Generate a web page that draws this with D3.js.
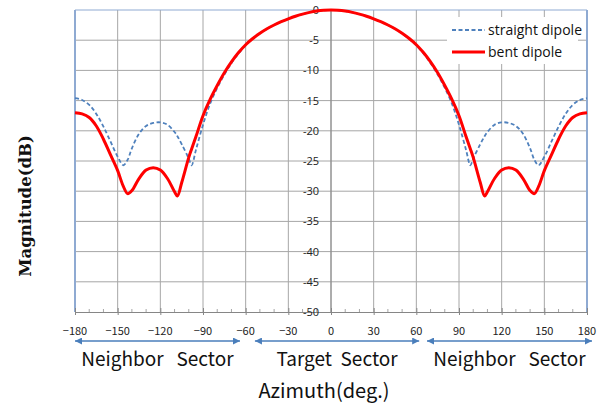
<!DOCTYPE html>
<html>
<head>
<meta charset="utf-8">
<script src="https://cdn.jsdelivr.net/npm/d3@7"></script>
<style>
  body { margin: 0; background: #fff; }
  svg { display: block; }
  .grid line { stroke: #a6a6a6; stroke-width: 1; }
  .tickLabel { font-family: "Noto Sans CJK JP", "Noto Sans", sans-serif; font-size: 11px; fill: #222; }
  .yLabel { font-family: "Open Sans", sans-serif; font-size: 11px; fill: #222; }
  .sectorText { font-family: "Noto Sans CJK JP", "Noto Sans", sans-serif; font-size: 19px; fill: #111; }
  .legendText { font-family: "Open Sans", sans-serif; font-size: 14px; fill: #111; }
</style>
</head>
<body>
<div id="chart"></div>
<script>
var azimuth = [-180,-175,-170,-165,-160,-155,-150,-146,-143,-140,-135,-130,-125,-120,-115,-110,-108,-105,-100,-98,-95,-90,-85,-80,-75,-70,-65,-60,-55,-50,-45,-40,-35,-30,-25,-20,-15,-10,-5,
  0,
  5,10,15,20,25,30,35,40,45,50,55,60,65,70,75,80,85,90,95,98,100,105,108,110,115,120,125,130,135,140,143,146,150,155,160,165,170,175,180];

// straight dipole (dB)
var straightDipole = [-14.6,-14.9,-15.7,-17.2,-19.3,-21.8,-24.3,-25.7,-24.8,-22.9,-20.5,-19.2,-18.7,-18.6,-19.0,-20.2,-20.9,-22.2,-24.6,-25.7,-23.2,-19.0,-15.5,-12.9,-10.7,-8.8,-7.2,-5.85,-4.8,-3.9,-3.12,-2.48,-1.94,-1.46,-1.03,-0.68,-0.39,-0.18,-0.05,
  0,
  -0.05,-0.18,-0.39,-0.68,-1.03,-1.46,-1.94,-2.48,-3.12,-3.9,-4.8,-5.85,-7.2,-8.8,-10.7,-12.9,-15.5,-19.0,-23.2,-25.7,-24.6,-22.2,-20.9,-20.2,-19.0,-18.6,-18.7,-19.2,-20.5,-22.9,-24.8,-25.7,-24.3,-21.8,-19.3,-17.2,-15.7,-14.9,-14.6];

// bent dipole (dB)
var bentDipole = [-17.0,-17.2,-17.8,-19.2,-21.4,-24.0,-26.6,-29.2,-30.4,-29.9,-27.9,-26.5,-26.1,-26.5,-27.9,-30.1,-30.8,-28.6,-24.4,-23.0,-21.0,-17.5,-14.8,-12.5,-10.4,-8.6,-7.05,-5.75,-4.72,-3.85,-3.1,-2.48,-1.94,-1.46,-1.03,-0.68,-0.39,-0.18,-0.05,
  0,
  -0.05,-0.18,-0.39,-0.68,-1.03,-1.46,-1.94,-2.48,-3.1,-3.85,-4.72,-5.75,-7.05,-8.6,-10.4,-12.5,-14.8,-17.5,-21.0,-23.0,-24.4,-28.6,-30.8,-30.1,-27.9,-26.5,-26.1,-26.5,-27.9,-29.9,-30.4,-29.2,-26.6,-24.0,-21.4,-19.2,-17.8,-17.2,-17.0];

var xTicks = [-180,-150,-120,-90,-60,-30,0,30,60,90,120,150,180];
var yTicks = [0,-5,-10,-15,-20,-25,-30,-35,-40,-45,-50];

// sector annotations below the axis (arrow extents in degrees)
var sectorNames = ["Neighbor\u00a0\u00a0\u00a0Sector", "Target\u00a0 Sector", "Neighbor\u00a0\u00a0\u00a0Sector"];
var sectorFrom = [-180, -53.5, 67.5];
var sectorTo = [-64, 62, 183.5];

var seriesNames = ["straight dipole", "bent dipole"];

var width = 600, height = 408;
var margin = {top: 10, right: 13, bottom: 96, left: 75};

var svg = d3.select("#chart").append("svg")
    .attr("width", width)
    .attr("height", height);

var xScale = d3.scaleLinear().domain([-180, 180]).range([margin.left, width - margin.right]);
var yScale = d3.scaleLinear().domain([-50, 0]).range([height - margin.bottom, margin.top]);

// arrow marker
var defs = svg.append("defs");
defs.append("marker")
    .attr("id", "arrow")
    .attr("viewBox", "0 0 10 10")
    .attr("refX", 10).attr("refY", 5)
    .attr("markerWidth", 7).attr("markerHeight", 7)
    .attr("markerUnits", "userSpaceOnUse")
    .attr("orient", "auto-start-reverse")
    .append("path")
    .attr("d", "M0,0L10,5L0,10Z")
    .attr("fill", "#4a7ebb");

// grid lines
var grid = svg.append("g").attr("class", "grid");
grid.selectAll(".h").data(yTicks.slice(1, -1)).enter().append("line")
    .attr("x1", xScale(-180)).attr("x2", xScale(180))
    .attr("y1", function(d) { return yScale(d); })
    .attr("y2", function(d) { return yScale(d); });
grid.selectAll(".v").data(xTicks.slice(1, -1)).enter().append("line")
    .attr("y1", yScale(0)).attr("y2", yScale(-50))
    .attr("x1", function(d) { return xScale(d); })
    .attr("x2", function(d) { return xScale(d); });

// plot frame: blue-grey on left, top, right
svg.append("line").attr("x1", xScale(-180)).attr("x2", xScale(180))
    .attr("y1", yScale(0)).attr("y2", yScale(0))
    .attr("stroke", "#8faad2").attr("stroke-width", 1);
svg.append("line").attr("x1", xScale(-180)).attr("x2", xScale(-180))
    .attr("y1", yScale(0)).attr("y2", yScale(-50))
    .attr("stroke", "#8faad2").attr("stroke-width", 2);
svg.append("line").attr("x1", xScale(180)).attr("x2", xScale(180))
    .attr("y1", yScale(0)).attr("y2", yScale(-50))
    .attr("stroke", "#8faad2").attr("stroke-width", 2);

// bottom axis with major ticks every 30 deg and minor ones every 10 deg
var xAxis = d3.axisBottom(xScale).tickValues(xTicks).tickSize(3).tickFormat("");
var xAxisG = svg.append("g")
    .attr("transform", "translate(0," + yScale(-50) + ")")
    .call(xAxis);
xAxisG.select(".domain").attr("stroke", "#868686");
xAxisG.selectAll(".tick line").attr("stroke", "#868686").attr("y1", -4);
svg.append("g")
    .selectAll("line")
    .data(d3.range(-170, 180, 10).filter(function(d) { return d % 30 != 0; }))
    .enter().append("line")
    .attr("x1", function(d) { return xScale(d); })
    .attr("x2", function(d) { return xScale(d); })
    .attr("y1", yScale(-50) - 3).attr("y2", yScale(-50))
    .attr("stroke", "#a6a6a6");

svg.selectAll(".xTickLabel").data(xTicks).enter().append("text")
    .attr("class", "tickLabel")
    .attr("x", function(d) { return xScale(d); })
    .attr("y", yScale(-50) + 23)
    .attr("text-anchor", "middle")
    .text(function(d) { return d < 0 ? "\u2212" + Math.abs(d) : d; });

// y axis sits at azimuth 0
svg.append("line").attr("x1", xScale(0)).attr("x2", xScale(0))
    .attr("y1", yScale(0)).attr("y2", yScale(-50))
    .attr("stroke", "#868686");
svg.selectAll(".yTickLabel").data(yTicks).enter().append("text")
    .attr("class", "yLabel")
    .attr("x", xScale(0) - 12)
    .attr("y", function(d) { return yScale(d) + 4; })
    .attr("text-anchor", "end")
    .text(function(d) { return d; });

// curves
var line = d3.line()
    .x(function(d, i) { return xScale(azimuth[i]); })
    .y(function(d) { return yScale(d); })
    .curve(d3.curveCatmullRom.alpha(0.5));

svg.append("path")
    .datum(straightDipole)
    .attr("d", line)
    .attr("fill", "none")
    .attr("stroke", "#4f81bd")
    .attr("stroke-width", 1.8)
    .attr("stroke-dasharray", "4,2.5");

svg.append("path")
    .datum(bentDipole)
    .attr("d", line)
    .attr("fill", "none")
    .attr("stroke", "#ff0000")
    .attr("stroke-width", 3);

// legend
var legend = svg.append("g");
legend.append("rect")
    .attr("x", 447).attr("y", 17).attr("width", 131).attr("height", 47)
    .attr("fill", "#fff");
seriesNames.forEach(function(name, i) {
    var ly = 30 + i * 22;
    legend.append("line")
        .attr("x1", 452).attr("x2", 485)
        .attr("y1", ly).attr("y2", ly)
        .attr("stroke", i == 0 ? "#4f81bd" : "#ff0000")
        .attr("stroke-width", i == 0 ? 1.8 : 3)
        .attr("stroke-dasharray", i == 0 ? "4,2.5" : null);
    legend.append("text")
        .attr("class", "legendText")
        .attr("x", 488).attr("y", ly + 5)
        .text(name);
});

// sector arrows and labels
sectorNames.forEach(function(name, i) {
    svg.append("line")
        .attr("x1", xScale(sectorFrom[i])).attr("x2", xScale(sectorTo[i]))
        .attr("y1", 341).attr("y2", 341)
        .attr("stroke", "#4a7ebb").attr("stroke-width", 1.5)
        .attr("marker-start", "url(#arrow)")
        .attr("marker-end", "url(#arrow)");
    svg.append("text")
        .attr("class", "sectorText")
        .attr("x", (xScale(sectorFrom[i]) + xScale(sectorTo[i])) / 2)
        .attr("y", 366)
        .attr("text-anchor", "middle")
        .text(name);
});

// axis titles
svg.append("text")
    .attr("x", 324).attr("y", 398)
    .attr("text-anchor", "middle")
    .attr("font-family", "'Noto Sans CJK JP', 'Noto Sans', sans-serif")
    .attr("font-size", 20)
    .attr("fill", "#111")
    .text("Azimuth(deg.)");

svg.append("text")
    .attr("transform", "translate(31,206) rotate(-90)")
    .attr("text-anchor", "middle")
    .attr("font-family", "'DejaVu Serif', serif")
    .attr("font-weight", "bold")
    .attr("font-size", 16.5)
    .attr("fill", "#111")
    .text("Magnitude(dB)");
</script>
</body>
</html>
